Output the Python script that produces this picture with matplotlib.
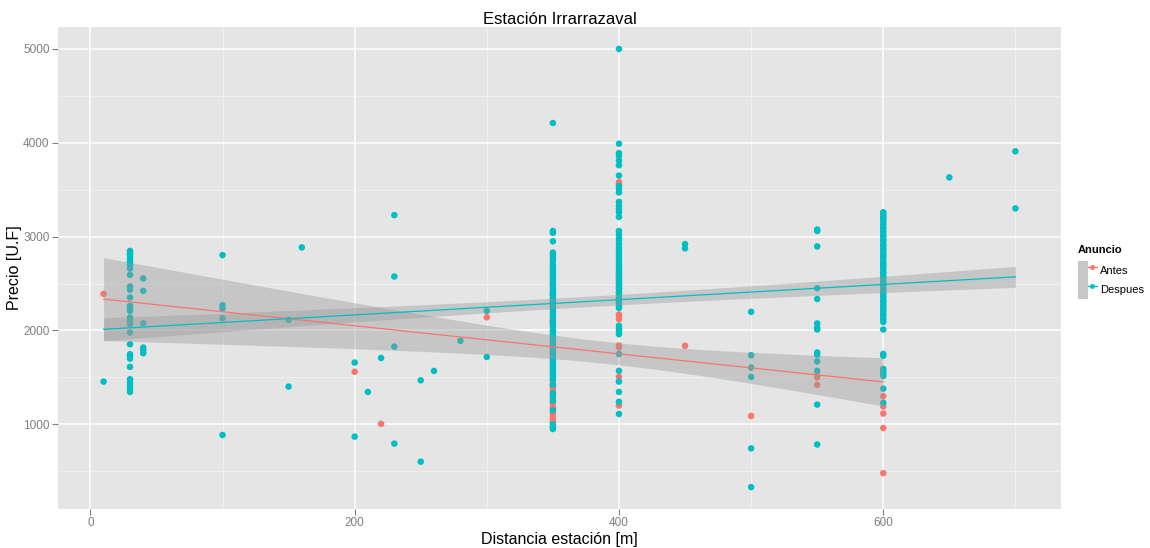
import math
import numpy as np
import matplotlib
matplotlib.use('Agg')
import matplotlib.pyplot as plt
from matplotlib.patches import Patch
from matplotlib.lines import Line2D
from matplotlib.legend_handler import HandlerTuple
from matplotlib.ticker import MultipleLocator

plt.rcParams['font.family'] = ['Liberation Sans', 'DejaVu Sans']

title = "Estación Irrarrazaval"
x_label = "Distancia estación [m]"
y_label = "Precio [U.F]"
legend_title = "Anuncio"
groups = ["Antes", "Despues"]
colors = ["#F8766D", "#00BFC4"]
x_ticks = [0, 200, 400, 600]
y_ticks = [1000, 2000, 3000, 4000, 5000]
conf_level = 0.80

# price observations grouped by distance (m)
antes = {
    10: [2390],
    200: [1560],
    220: [1005],
    300: [2140],
    350: [2490, 2380, 2300, 2120, 2090, 1840, 1800, 1760, 1460, 1430, 1400, 1370,
          1340, 1270, 1230, 1190, 1160, 1120, 1080, 1050, 1020],
    400: [3580, 3560, 2620, 2600, 2550, 2500, 2450, 2400, 2300, 2170, 2150, 2120,
          1840, 1820, 1505, 1200],
    450: [1836],
    500: [1089],
    550: [1520, 1500, 1420],
    600: [1300, 1190, 1115, 960, 480],
}

despues = {
    10: [1455],
    30: [2848, 2830, 2813, 2796, 2767, 2742, 2724, 2696, 2660, 2593, 2468, 2433,
         2351, 2262, 2234, 2209, 2138, 2120, 2092, 2067, 1978, 1853, 1747, 1729,
         1700, 1612, 1480, 1444, 1409, 1373, 1345],
    40: [2554, 2422, 2077, 1818, 1789, 1757],
    100: [2803, 2269, 2234, 2131, 886],
    150: [2113, 1402],
    160: [2885],
    200: [1658, 869],
    210: [1345],
    220: [1707],
    230: [3229, 2575, 1828, 794],
    250: [1469, 602],
    260: [1569],
    280: [1889],
    300: [2209, 1718],
    350: [4210, 3060, 3040, 2950, 2830, 2800, 2770, 2740, 2700, 2680, 2650, 2620,
          2600, 2570, 2540, 2510, 2480, 2450, 2420, 2400, 2380, 2350, 2330, 2300,
          2280, 2250, 2230, 2200, 2180, 2150, 2100, 2070, 2040, 2000, 1980, 1950,
          1920, 1900, 1870, 1850, 1820, 1780, 1750, 1720, 1700, 1670, 1650, 1620,
          1600, 1580, 1550, 1530, 1500, 1480, 1420, 1330, 1300, 1250, 1150, 1000,
          970, 950],
    400: [5000, 3990, 3890, 3860, 3810, 3760, 3650, 3540, 3510, 3470, 3370, 3330,
          3300, 3260, 3210, 3060, 3020, 2980, 2950, 2920, 2880, 2850, 2820, 2790,
          2760, 2730, 2700, 2670, 2640, 2610, 2580, 2560, 2530, 2500, 2470, 2440,
          2410, 2380, 2350, 2320, 2290, 2260, 2240, 2050, 2020, 1990, 1960, 1750,
          1570, 1455, 1345, 1240, 1110],
    450: [2920, 2875],
    500: [2198, 1736, 1605, 1505, 744, 331],
    550: [3075, 3060, 2895, 2450, 2335, 2075, 2030, 2010, 1765, 1740, 1670, 1570,
          1210, 785],
    600: [3260, 3240, 3220, 3200, 3180, 3160, 3130, 3100, 3080, 3050, 3020, 3000,
          2970, 2950, 2920, 2900, 2870, 2850, 2820, 2800, 2780, 2750, 2720, 2700,
          2680, 2650, 2620, 2600, 2570, 2550, 2520, 2500, 2480, 2450, 2430, 2400,
          2370, 2350, 2320, 2300, 2270, 2250, 2220, 2200, 2170, 2150, 2120, 2090,
          2010, 1750, 1730, 1590, 1560, 1540, 1515, 1380, 1230],
    650: [3631],
    700: [3909, 3301],
}


def expand(d):
    xs, ys = [], []
    for k, vals in d.items():
        xs += [k] * len(vals)
        ys += list(vals)
    return np.array(xs, float), np.array(ys, float)


def z_quantile(p):
    lo, hi = 0.0, 10.0
    for _ in range(100):
        mid = 0.5 * (lo + hi)
        if 0.5 * (1 + math.erf(mid / math.sqrt(2))) < p:
            lo = mid
        else:
            hi = mid
    return 0.5 * (lo + hi)


def t_quantile(df, level):
    z = z_quantile(0.5 + level / 2)
    return (z + (z**3 + z) / (4 * df) + (5 * z**5 + 16 * z**3 + 3 * z) / (96 * df**2)
            + (3 * z**7 + 19 * z**5 + 17 * z**3 - 15 * z) / (384 * df**3))


def lm_band(x, y, xs, level):
    n = len(x)
    xm = x.mean()
    sxx = ((x - xm) ** 2).sum()
    b = ((x - xm) * (y - y.mean())).sum() / sxx
    a = y.mean() - b * xm
    s = np.sqrt(((y - (a + b * x)) ** 2).sum() / (n - 2))
    se = s * np.sqrt(1.0 / n + (xs - xm) ** 2 / sxx)
    t = t_quantile(n - 2, level)
    fit = a + b * xs
    return fit, fit - t * se, fit + t * se


data = [expand(antes), expand(despues)]

W, H = 1150, 548
fig = plt.figure(figsize=(W / 100, H / 100), dpi=100)
ax = fig.add_axes([58 / W, 1 - 509 / H, (1061 - 58) / W, (509 - 27) / H])
ax.set_facecolor('#E5E5E5')
for s in ax.spines.values():
    s.set_visible(False)

for (x, y), c in zip(data, colors):
    ax.scatter(x, y, s=22, color=c, edgecolors='none', zorder=2)

for (x, y), c in zip(data, colors):
    xs = np.linspace(x.min(), x.max(), 80)
    fit, lo, hi = lm_band(x, y, xs, conf_level)
    ax.fill_between(xs, lo, hi, color='#999999', alpha=0.4, linewidth=0, zorder=3)
    ax.plot(xs, fit, color=c, linewidth=0.9, zorder=4)

allx = np.concatenate([d[0] for d in data])
ally = np.concatenate([d[1] for d in data])
xr = allx.max() - allx.min()
yr = ally.max() - ally.min()
ax.set_xlim(allx.min() - 0.05 * xr, allx.max() + 0.05 * xr)
ax.set_ylim(ally.min() - 0.05 * yr, ally.max() + 0.05 * yr)

ax.set_xticks(x_ticks)
ax.set_yticks(y_ticks)
ax.xaxis.set_minor_locator(MultipleLocator(100))
ax.yaxis.set_minor_locator(MultipleLocator(500))
ax.grid(True, which='major', color='white', linewidth=1.1, zorder=0)
ax.grid(True, which='minor', color='#F2F2F2', linewidth=0.6, zorder=0)
ax.set_axisbelow(True)
ax.tick_params(which='major', length=4, width=0.8, color='#7F7F7F',
               labelcolor='#7F7F7F', labelsize=8.5, pad=2)
ax.tick_params(which='minor', length=0)

ax.set_title(title, fontsize=12, pad=2)
ax.set_xlabel(x_label, fontsize=11.5, labelpad=2)
ax.set_ylabel(y_label, fontsize=11.5)
ax.yaxis.set_label_coords(-0.036, 0.5)

handles = []
for c in colors:
    patch = Patch(facecolor='#C7C7C7', edgecolor='none')
    line = Line2D([], [], color=c, linewidth=0.9, marker='o', markersize=3.5,
                  markeredgewidth=0)
    handles.append((patch, line))
leg = fig.legend(handles, groups, title=legend_title, loc='upper left',
                 bbox_to_anchor=(1072.5 / W, 1 - 239.5 / H), frameon=False,
                 handler_map={tuple: HandlerTuple(ndivide=None, pad=0)},
                 fontsize=8, title_fontsize=8, handlelength=1.7, handleheight=2.25,
                 labelspacing=0.0, handletextpad=0.3, borderpad=0.5,
                 borderaxespad=0.0, alignment='left')
leg.get_title().set_fontweight('bold')
leg._legend_box.sep = 4

fig.savefig('out.png', dpi=100)
